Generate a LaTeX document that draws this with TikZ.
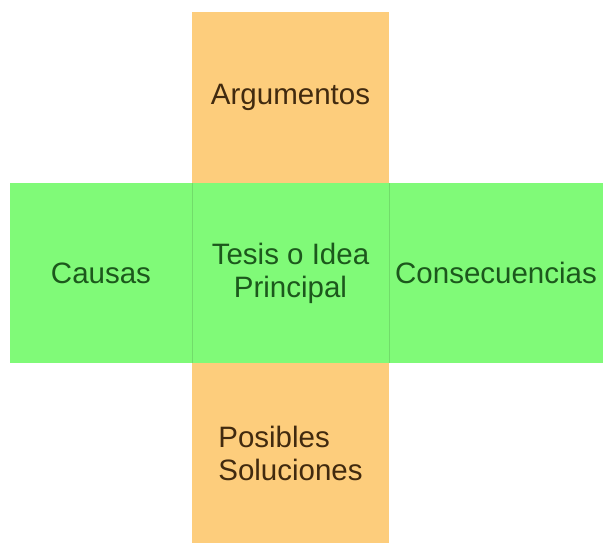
\documentclass[tikz,border=0pt]{standalone}
\usepackage{fontspec}
\setmainfont{Liberation Sans}
\usetikzlibrary{positioning}

\definecolor{naranja}{RGB}{253,205,124}
\definecolor{verde}{RGB}{128,250,120}
\definecolor{marron}{RGB}{65,42,15}
\definecolor{verdeosc}{RGB}{28,88,28}

\tikzset{
  celda/.style={inner sep=0pt, outer sep=0pt, align=center,
    minimum width=197pt, minimum height=180pt,
    font=\fontsize{29.5}{33}\selectfont},
  brazo/.style={celda, fill=naranja, text=marron},
  lado/.style={celda, fill=verde, text=verdeosc},
}

\begin{document}
\begin{tikzpicture}[x=1pt,y=-1pt]
    % Marco
    \useasboundingbox (0,0) rectangle (603,544);

    % Celda central
    \node[lado] (tesis) at (290.5,273) {Tesis o Idea\\Principal};

    % Brazos
    \node[brazo, minimum height=171pt, above=0pt of tesis] (arg) {Argumentos};
    \node[brazo, below=0pt of tesis, align=left] (sol) {Posibles\\Soluciones};
    \node[lado, minimum width=182pt, left=0pt of tesis] (causas) {Causas};
    \node[lado, minimum width=214pt, right=0pt of tesis] (cons) {Consecuencias};

    % Divisiones tenues
    \draw[verde!88!black, line width=0.5pt] (tesis.north west) -- (tesis.south west);
    \draw[verde!88!black, line width=0.5pt] (tesis.north east) -- (tesis.south east);
\end{tikzpicture}
\end{document}
